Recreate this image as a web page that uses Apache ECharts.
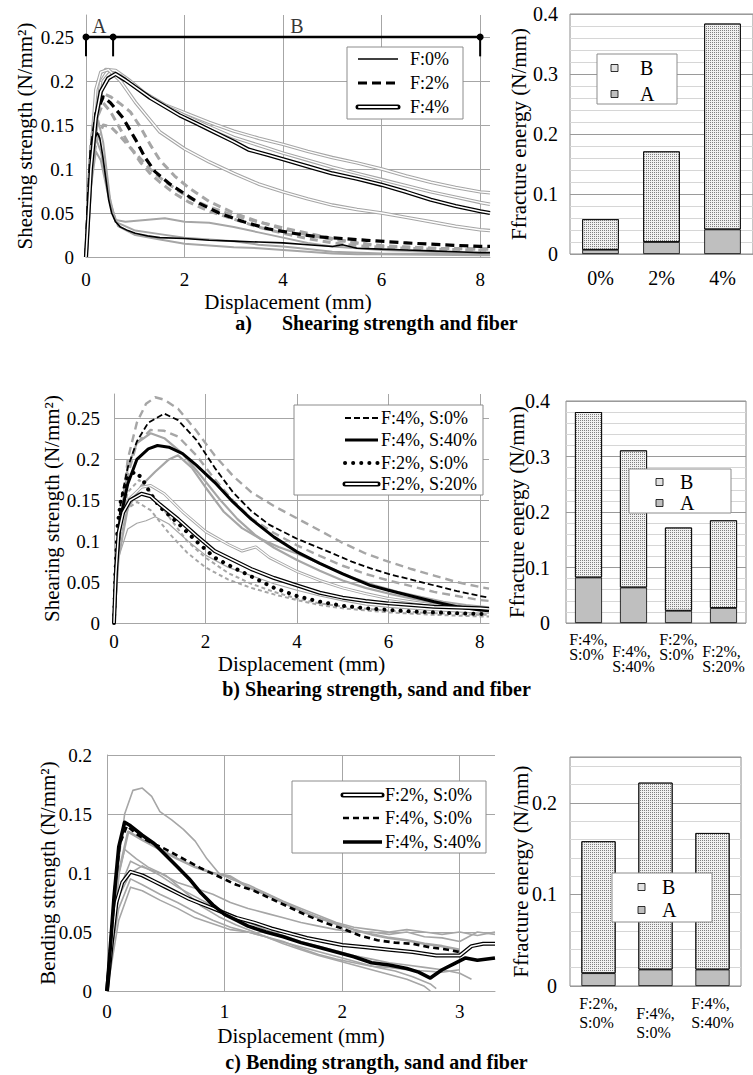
<!DOCTYPE html>
<html><head><meta charset="utf-8">
<script src="https://cdn.jsdelivr.net/npm/echarts@6/dist/echarts.min.js"></script>
<style>html,body{margin:0;padding:0;background:#fff}#c{width:753px;height:1075px}</style>
</head><body><div id="c"></div>
<script>
// ---------------- DATA ----------------
// Chart a) shearing strength vs displacement, fiber content
const aF0 = [[0,0],[0.04,0.05],[0.08,0.09],[0.13,0.12],[0.18,0.135],[0.23,0.141],[0.28,0.135],[0.34,0.115],[0.4,0.09],[0.46,0.065],[0.52,0.05],[0.6,0.04],[0.7,0.034],[0.85,0.03],[1,0.027],[1.25,0.024],[1.5,0.022],[2,0.021],[2.5,0.019],[3,0.018],[3.5,0.017],[4,0.016],[4.5,0.014],[5,0.012],[5.2,0.014],[5.5,0.01],[6,0.009],[6.5,0.008],[7,0.007],[7.5,0.006],[8,0.005],[8.2,0.005]];
const aF2 = [[0,0],[0.05,0.07],[0.1,0.12],[0.2,0.163],[0.35,0.182],[0.5,0.175],[0.75,0.158],[1,0.134],[1.2,0.113],[1.4,0.097],[1.7,0.083],[2,0.072],[2.3,0.061],[2.7,0.05],[3.2,0.04],[3.7,0.032],[4.2,0.027],[4.7,0.023],[5.2,0.021],[5.7,0.019],[6.5,0.016],[7.2,0.014],[8,0.012],[8.2,0.012]];
const aF4 = [[0,0],[0.05,0.05],[0.1,0.1],[0.2,0.158],[0.3,0.188],[0.45,0.203],[0.6,0.208],[0.8,0.201],[1,0.193],[1.3,0.181],[1.6,0.171],[1.9,0.161],[2.2,0.153],[2.6,0.142],[3,0.131],[3.3,0.122],[3.7,0.116],[4,0.111],[4.5,0.103],[5,0.095],[5.5,0.089],[6,0.082],[6.5,0.074],[7,0.065],[7.5,0.058],[8,0.052],[8.2,0.05]];
const aGrayF0_1 = [[0,0],[0.1,0.08],[0.2,0.12],[0.3,0.11],[0.45,0.07],[0.6,0.042],[0.8,0.04],[1.2,0.042],[1.6,0.044],[2,0.04],[2.5,0.039],[3,0.034],[3.5,0.028],[4,0.022],[4.5,0.016],[5,0.012],[5.5,0.01],[6,0.008],[7,0.006],[8,0.004],[8.2,0.004]];
const aGrayF0_2 = [[0,0],[0.1,0.1],[0.25,0.155],[0.35,0.13],[0.5,0.06],[0.65,0.035],[1,0.025],[1.5,0.02],[2,0.015],[2.5,0.013],[3,0.011],[3.5,0.01],[4,0.008],[4.5,0.006],[5,0.004],[5.5,0.003],[6,0.003],[8,0.002],[8.2,0.002]];
const aGrayF0_3 = [[0,0],[0.1,0.09],[0.2,0.135],[0.3,0.12],[0.45,0.075],[0.6,0.04],[1,0.03],[1.5,0.026],[2,0.022],[2.5,0.02],[3,0.018],[3.5,0.014],[4,0.012],[4.5,0.009],[5,0.006],[6,0.004],[8,0.003],[8.2,0.003]];
const aGrayF2_1 = [[0,0],[0.05,0.08],[0.1,0.13],[0.2,0.172],[0.35,0.186],[0.5,0.182],[0.7,0.174],[0.9,0.165],[1.1,0.148],[1.3,0.128],[1.5,0.11],[1.8,0.092],[2.1,0.078],[2.5,0.063],[3,0.05],[3.5,0.04],[4,0.032],[4.5,0.025],[5,0.02],[5.5,0.016],[6,0.013],[7,0.01],[8,0.009],[8.2,0.009]];
const aGrayF2_2 = [[0,0],[0.05,0.06],[0.1,0.11],[0.2,0.155],[0.35,0.175],[0.5,0.165],[0.7,0.145],[0.9,0.125],[1.1,0.108],[1.3,0.095],[1.5,0.085],[1.8,0.072],[2.1,0.062],[2.5,0.052],[3,0.043],[3.5,0.034],[4,0.027],[4.5,0.021],[5,0.016],[5.5,0.013],[6,0.011],[7,0.009],[8,0.008],[8.2,0.008]];
const aGrayF2_3 = [[0,0],[0.05,0.05],[0.1,0.09],[0.2,0.13],[0.35,0.15],[0.5,0.148],[0.7,0.137],[0.9,0.124],[1.1,0.112],[1.3,0.1],[1.5,0.09],[1.8,0.078],[2.1,0.067],[2.5,0.057],[3,0.047],[3.5,0.04],[4,0.033],[4.5,0.027],[5,0.021],[5.5,0.016],[6,0.012],[7,0.01],[8,0.009],[8.2,0.009]];
const aGrayF4_1 = [[0,0],[0.1,0.12],[0.25,0.2],[0.4,0.213],[0.6,0.212],[0.9,0.2],[1.2,0.186],[1.6,0.173],[2,0.164],[2.5,0.153],[3,0.143],[3.5,0.135],[4,0.128],[4.5,0.12],[5,0.113],[5.5,0.107],[6,0.1],[6.5,0.092],[7,0.085],[7.5,0.079],[8,0.074],[8.2,0.073]];
const aGrayF4_2 = [[0,0],[0.1,0.09],[0.2,0.15],[0.35,0.2],[0.5,0.21],[0.7,0.206],[1,0.193],[1.5,0.175],[2,0.161],[2.5,0.148],[3,0.136],[3.5,0.127],[4,0.118],[4.5,0.11],[5,0.102],[5.5,0.095],[6,0.088],[6.5,0.081],[7,0.074],[7.5,0.068],[8,0.062],[8.2,0.06]];
const aGrayF4_3 = [[0,0],[0.08,0.1],[0.2,0.19],[0.3,0.21],[0.45,0.213],[0.7,0.2],[1,0.176],[1.5,0.142],[2,0.123],[2.5,0.108],[3,0.095],[3.5,0.083],[4,0.074],[4.5,0.066],[5,0.059],[5.5,0.054],[6,0.05],[6.5,0.045],[7,0.04],[7.5,0.035],[8,0.031],[8.2,0.03]];
const abBounds = [0, 0.55, 8];      // zone limits A | B (mm)
const abLevel = 0.25;               // level of the A/B bar
const abTickEnd = 0.228;            // lower end of limit ticks
const abLabels = ['A', 'B'];
const abLabelX = [0.27, 4.28];
const abLabelY = 0.263;

// Bar a) fracture energy
const barACats = ['0%', '2%', '4%'];
const barA_A = [0.007, 0.020, 0.041];
const barA_B = [0.051, 0.151, 0.343];

// Chart b) shearing strength, sand and fiber
const bF4S0 = [[0,0],[0.05,0.08],[0.15,0.15],[0.3,0.19],[0.5,0.222],[0.75,0.245],[1.1,0.256],[1.4,0.248],[1.8,0.224],[2.2,0.19],[2.6,0.16],[3,0.137],[3.4,0.12],[4,0.103],[4.7,0.087],[5.2,0.075],[5.6,0.067],[6,0.06],[6.5,0.053],[7,0.046],[7.5,0.039],[8,0.033],[8.2,0.031]];
const bF4S40 = [[0,0],[0.05,0.07],[0.15,0.13],[0.3,0.17],[0.5,0.2],[0.75,0.213],[0.95,0.217],[1.2,0.215],[1.5,0.207],[1.8,0.193],[2.2,0.172],[2.6,0.148],[3,0.127],[3.5,0.105],[4,0.087],[4.5,0.073],[5,0.06],[5.6,0.046],[6,0.04],[6.5,0.033],[7,0.026],[7.5,0.02],[8,0.016],[8.2,0.015]];
const bF2S0 = [[0,0],[0.03,0.06],[0.08,0.12],[0.15,0.15],[0.3,0.177],[0.45,0.185],[0.6,0.178],[0.8,0.158],[1,0.142],[1.4,0.122],[1.8,0.1],[2.2,0.08],[2.6,0.068],[3,0.057],[3.5,0.043],[4,0.033],[4.5,0.026],[5,0.021],[5.5,0.018],[6,0.016],[6.5,0.014],[7,0.013],[7.5,0.012],[8,0.011],[8.2,0.011]];
const bF2S20 = [[0,0],[0.04,0.06],[0.1,0.11],[0.2,0.135],[0.35,0.15],[0.6,0.158],[0.8,0.155],[1,0.145],[1.4,0.127],[1.8,0.107],[2.2,0.088],[2.6,0.077],[3,0.066],[3.5,0.055],[4,0.046],[4.5,0.037],[5,0.031],[5.5,0.027],[6,0.024],[6.5,0.022],[7,0.02],[7.5,0.019],[8,0.018],[8.2,0.017]];
const bGrayD1 = [[0,0],[0.1,0.1],[0.3,0.2],[0.5,0.245],[0.7,0.268],[0.9,0.276],[1.1,0.273],[1.4,0.262],[1.8,0.235],[2.2,0.205],[2.6,0.18],[3,0.16],[3.5,0.143],[4,0.128],[4.5,0.113],[5,0.098],[5.5,0.085],[6,0.075],[6.5,0.066],[7,0.058],[7.5,0.05],[8,0.044],[8.2,0.042]];
const bGrayD2 = [[0,0],[0.1,0.09],[0.3,0.18],[0.5,0.22],[0.8,0.236],[1.1,0.235],[1.4,0.228],[1.8,0.205],[2.2,0.176],[2.6,0.15],[3,0.128],[3.5,0.11],[4,0.095],[4.5,0.082],[5,0.07],[5.5,0.06],[6,0.052],[6.5,0.045],[7,0.038],[7.5,0.033],[8,0.028],[8.2,0.027]];
const bGrayS1 = [[0,0],[0.1,0.1],[0.3,0.19],[0.5,0.22],[0.8,0.232],[1.1,0.226],[1.5,0.207],[1.9,0.18],[2.3,0.152],[2.7,0.127],[3.1,0.107],[3.5,0.092],[4,0.077],[4.5,0.064],[5,0.052],[5.5,0.043],[6,0.036],[6.5,0.03],[7,0.025],[7.5,0.021],[8,0.018],[8.2,0.017]];
const bGrayS2 = [[0,0],[0.1,0.08],[0.3,0.14],[0.6,0.168],[0.9,0.185],[1.2,0.2],[1.4,0.205],[1.7,0.19],[2,0.166],[2.4,0.136],[2.8,0.116],[3.2,0.103],[3.6,0.093],[4,0.085],[4.7,0.068],[5.2,0.056],[5.7,0.046],[6.2,0.038],[6.7,0.032],[7.2,0.026],[7.7,0.022],[8.2,0.019]];
const bGrayW1 = [[0,0],[0.1,0.1],[0.3,0.15],[0.6,0.166],[0.8,0.168],[1.1,0.158],[1.5,0.136],[2,0.112],[2.5,0.096],[2.8,0.088],[3.1,0.093],[3.4,0.08],[4,0.063],[4.5,0.052],[5,0.043],[5.5,0.036],[6,0.03],[6.5,0.026],[7,0.022],[7.5,0.02],[8,0.018],[8.2,0.017]];
const bGrayW2 = [[0,0],[0.1,0.08],[0.3,0.115],[0.5,0.122],[0.7,0.125],[0.9,0.13],[1.2,0.121],[1.6,0.101],[2,0.083],[2.5,0.068],[3,0.058],[3.5,0.048],[4,0.04],[4.5,0.033],[5,0.027],[5.5,0.022],[6,0.019],[7,0.015],[8,0.012],[8.2,0.012]];
const bGrayP1 = [[0,0],[0.1,0.1],[0.3,0.14],[0.5,0.148],[0.8,0.138],[1.2,0.11],[1.6,0.086],[2,0.068],[2.5,0.053],[3,0.043],[3.5,0.035],[4,0.028],[4.5,0.022],[5,0.018],[6,0.013],[7,0.01],[8,0.008],[8.2,0.008]];
const bGrayP2 = [[0,0],[0.1,0.11],[0.3,0.16],[0.55,0.175],[0.8,0.16],[1.2,0.13],[1.6,0.1],[2,0.08],[2.5,0.061],[3,0.048],[3.5,0.038],[4,0.03],[4.5,0.024],[5,0.02],[6,0.015],[7,0.012],[8,0.01],[8.2,0.01]];

// Bar b)
const barBCats = ['F:4%, S:0%', 'F:4%, S:40%', 'F:2%, S:0%', 'F:2%, S:20%'];
const barB_A = [0.082, 0.064, 0.022, 0.027];
const barB_B = [0.298, 0.247, 0.150, 0.158];

// Chart c) bending strength
const cF2S0 = [[0,0],[0.04,0.04],[0.08,0.075],[0.13,0.092],[0.2,0.101],[0.3,0.098],[0.4,0.093],[0.5,0.088],[0.6,0.083],[0.7,0.078],[0.8,0.074],[0.9,0.07],[1,0.066],[1.1,0.062],[1.25,0.058],[1.4,0.053],[1.55,0.049],[1.7,0.045],[1.85,0.042],[2,0.039],[2.2,0.037],[2.4,0.035],[2.6,0.033],[2.8,0.03],[3,0.03],[3.1,0.038],[3.2,0.04],[3.3,0.04]];
const cF4S0 = [[0,0],[0.03,0.04],[0.07,0.09],[0.11,0.125],[0.17,0.14],[0.25,0.133],[0.35,0.127],[0.5,0.12],[0.65,0.112],[0.8,0.104],[0.95,0.097],[1.1,0.09],[1.25,0.085],[1.4,0.078],[1.55,0.071],[1.7,0.064],[1.85,0.058],[2,0.053],[2.15,0.047],[2.3,0.043],[2.45,0.041],[2.6,0.04],[2.75,0.037],[2.9,0.035],[3,0.033]];
const cF4S40 = [[0,0],[0.03,0.04],[0.06,0.08],[0.1,0.122],[0.15,0.143],[0.2,0.14],[0.3,0.132],[0.4,0.125],[0.5,0.115],[0.6,0.105],[0.7,0.095],[0.8,0.083],[0.9,0.073],[1,0.065],[1.1,0.06],[1.2,0.055],[1.35,0.05],[1.5,0.046],[1.65,0.041],[1.8,0.037],[1.95,0.033],[2.1,0.029],[2.25,0.024],[2.4,0.022],[2.55,0.019],[2.65,0.016],[2.75,0.011],[2.85,0.018],[2.95,0.023],[3.05,0.028],[3.15,0.026],[3.3,0.028]];
const cGray1 = [[0,0],[0.05,0.06],[0.1,0.11],[0.15,0.15],[0.22,0.17],[0.3,0.172],[0.38,0.165],[0.45,0.152],[0.55,0.145],[0.65,0.137],[0.75,0.127],[0.85,0.112],[0.95,0.1],[1.05,0.095],[1.2,0.09],[1.35,0.083],[1.5,0.076],[1.65,0.07],[1.8,0.064],[1.95,0.058],[2.1,0.054],[2.25,0.052],[2.4,0.05],[2.55,0.052],[2.7,0.05],[2.85,0.048],[3,0.05],[3.15,0.047],[3.3,0.05]];
const cGray2 = [[0,0],[0.05,0.05],[0.1,0.1],[0.18,0.135],[0.3,0.128],[0.45,0.12],[0.6,0.112],[0.75,0.105],[0.9,0.1],[1.05,0.097],[1.2,0.088],[1.35,0.082],[1.5,0.075],[1.65,0.068],[1.8,0.062],[1.95,0.057],[2.1,0.052],[2.25,0.048],[2.4,0.045],[2.55,0.043],[2.7,0.04],[2.85,0.038],[3,0.035]];
const cGray3 = [[0,0],[0.05,0.06],[0.1,0.1],[0.15,0.12],[0.25,0.112],[0.35,0.105],[0.5,0.098],[0.65,0.085],[0.8,0.072],[0.95,0.063],[1.1,0.056],[1.25,0.05],[1.4,0.044],[1.55,0.04],[1.7,0.036],[1.85,0.032],[2,0.028],[2.15,0.024],[2.3,0.02],[2.45,0.017],[2.6,0.012],[2.75,0.006],[2.8,0.002]];
const cGray4 = [[0,0],[0.05,0.04],[0.1,0.07],[0.2,0.095],[0.3,0.09],[0.45,0.082],[0.6,0.075],[0.75,0.067],[0.9,0.06],[1.05,0.054],[1.2,0.05],[1.35,0.046],[1.5,0.042],[1.65,0.036],[1.8,0.031],[1.95,0.027],[2.1,0.024],[2.25,0.021],[2.4,0.02],[2.55,0.018],[2.7,0.017],[2.85,0.016],[3,0.018]];
const cGray5 = [[0,0],[0.05,0.05],[0.1,0.08],[0.2,0.1],[0.3,0.106],[0.45,0.098],[0.6,0.088],[0.75,0.08],[0.9,0.072],[1.05,0.065],[1.2,0.058],[1.35,0.052],[1.5,0.047],[1.65,0.042],[1.8,0.038],[1.95,0.034],[2.1,0.03],[2.25,0.027],[2.4,0.024],[2.55,0.022],[2.7,0.02],[2.85,0.018],[3,0.015],[3.1,0.01]];
const cGray6 = [[0,0],[0.05,0.03],[0.1,0.06],[0.2,0.088],[0.3,0.085],[0.45,0.077],[0.6,0.07],[0.75,0.062],[0.9,0.057],[1.05,0.052],[1.2,0.05],[1.35,0.046],[1.5,0.04],[1.65,0.035],[1.8,0.03],[1.95,0.026],[2.1,0.022],[2.25,0.018],[2.4,0.014],[2.55,0.01],[2.7,0.004],[2.75,0]];
const cGray7 = [[0,0],[0.05,0.05],[0.1,0.085],[0.2,0.11],[0.3,0.105],[0.45,0.1],[0.6,0.092],[0.75,0.087],[0.9,0.082],[1.05,0.075],[1.2,0.07],[1.35,0.066],[1.5,0.062],[1.65,0.058],[1.8,0.055],[1.95,0.052],[2.1,0.05],[2.25,0.05],[2.4,0.048],[2.55,0.05],[2.7,0.046],[2.85,0.045],[3,0.042],[3.15,0.05],[3.3,0.048]];

// Bar c)
const barCCats = ['F:2%, S:0%', 'F:4%, S:0%', 'F:4%, S:40%'];
const barC_A = [0.014, 0.018, 0.018];
const barC_B = [0.144, 0.204, 0.149];

const chartTitles = ['a)\u00a0\u00a0\u00a0\u00a0\u00a0\u00a0Shearing strength and fiber', 'b) Shearing strength, sand and fiber', 'c) Bending strangth, sand and fiber'];

// ---------------- STYLE / BUILD ----------------
const FONT = 'Liberation Serif';
const GRAY = '#a6a6a6';
const GRIDC = '#a6a6a6';
const TXT = '#000';

function numLabel(fs) {
  return { fontSize: fs, color: TXT, fontFamily: FONT,
    formatter: v => '{v|' + v + '}', rich: { v: { fontSize: fs, color: TXT, fontFamily: FONT } } };
}
function lineS(name, gi, data, color, width, type, cap) {
  return { name, type: 'line', xAxisIndex: gi, yAxisIndex: gi, data, symbol: 'none', showSymbol: false,
    silent: true, animation: false, clip: true,
    lineStyle: { color, width, type: type || 'solid', cap: cap || 'butt', join: 'round' } };
}
function doubleS(name, gi, data, outer, outerW, innerW) {
  return [lineS(name, gi, data, outer, outerW), lineS(name + '-in', gi, data, '#fff', innerW)];
}
function xVal(gi, max, interval, nameGap, margin) {
  return { gridIndex: gi, type: 'value', min: 0, max, interval,
    name: 'Displacement (mm)', nameLocation: 'middle', nameGap, nameMoveOverlap: false,
    nameTextStyle: { fontSize: 21, color: TXT, fontFamily: FONT },
    axisLine: { show: true, lineStyle: { color: GRIDC } }, axisTick: { show: false },
    axisLabel: Object.assign(numLabel(19), { margin, showMaxLabel: false }),
    splitLine: { show: true, showMaxLine: false, lineStyle: { color: GRIDC } } };
}
function yVal(gi, max, interval, name, nameGap, margin, hideMax, fs) {
  return { gridIndex: gi, type: 'value', min: 0, max, interval,
    name, nameLocation: 'middle', nameGap, nameRotate: 90, nameMoveOverlap: false,
    nameTextStyle: { fontSize: 21, color: TXT, fontFamily: FONT },
    axisLine: { show: true, lineStyle: { color: GRIDC } }, axisTick: { show: false },
    axisLabel: Object.assign(numLabel(fs || 19), { margin, showMaxLabel: !hideMax }),
    splitLine: { show: true, showMaxLine: !hideMax, lineStyle: { color: GRIDC } } };
}
function yBar(gi, max, nameGap, margin) {
  const a = yVal(gi, max, 0.1, 'Ffracture energy (N/mm)', nameGap, margin, false, 20);
  a.axisLabel.showMaxLabel = (max === 0.4);
  a.splitLine = { show: true, lineStyle: { color: '#9a9a9a' } };
  a.minorTick = { show: false, splitNumber: 5 };
  a.minorSplitLine = { show: true, lineStyle: { color: '#d6d6d6' } };
  a.axisLine = { show: false };
  return a;
}
function xCat(gi, cats, margin, stagger) {
  const ax = { gridIndex: gi, type: 'category', data: cats,
    axisLine: { show: false }, axisTick: { show: false },
    axisLabel: Object.assign(numLabel(20), { margin, interval: 0 }) };
  if (stagger) {
    ax.axisLabel.fontSize = 16;
    ax.axisLabel.formatter = (v, i) => {
      const p = v.split(' ');
      const body = '{t|' + p[0] + '}\n{t|' + p[1] + '}';
      return (i % 2 ? '{sp|\u00a0}\n' : '') + body;
    };
    ax.axisLabel.rich = {
      t: { fontSize: 16, lineHeight: stagger.lh, fontFamily: FONT, color: TXT, align: 'left' },
      sp: { fontSize: 4, lineHeight: stagger.off }
    };
  }
  return ax;
}
const stipple = { symbol: 'rect', symbolSize: 1, color: '#7f7f7f', dashArrayX: [1, 1], dashArrayY: [1, 1], rotation: 0 };
function barPair(gi, stack, aVals, bVals) {
  return [
    { name: 'A', type: 'bar', stack, xAxisIndex: gi, yAxisIndex: gi, data: aVals, barWidth: '60%', silent: true,
      itemStyle: { color: '#bfbfbf', borderColor: '#000', borderWidth: 0.8 } },
    { name: 'B', type: 'bar', stack, xAxisIndex: gi, yAxisIndex: gi, data: bVals, barWidth: '60%', silent: true,
      itemStyle: { color: '#f0f0f0', borderColor: '#000', borderWidth: 0.8, decal: stipple } }
  ];
}

// ---------------- SERIES ----------------
const series = [];
// chart a
[aGrayF0_1, aGrayF0_2, aGrayF0_3].forEach((d, i) => series.push(lineS('aG0' + i, 0, d, GRAY, 2)));
[aGrayF2_1, aGrayF2_2, aGrayF2_3].forEach((d, i) => series.push(lineS('aG2' + i, 0, d, GRAY, 3, [8, 5])));
[aGrayF4_1, aGrayF4_2, aGrayF4_3].forEach((d, i) => series.push(...doubleS('aG4' + i, 0, d, GRAY, 3.5, 1.4)));
series.push(lineS('F:0%', 0, aF0, '#000', 1.6));
series.push(lineS('F:2%', 0, aF2, '#000', 3.2, [9, 5]));
series.push(...doubleS('F:4%', 0, aF4, '#000', 4.2, 1.6));
series.push({ name: 'AB', type: 'line', xAxisIndex: 0, yAxisIndex: 0, silent: true,
  data: abBounds.map(x => [x, abLevel]), symbol: 'circle', symbolSize: 7, showSymbol: true,
  itemStyle: { color: '#000' }, lineStyle: { color: '#000', width: 2.6 }, clip: false });
abBounds.forEach((x, i) => series.push(Object.assign(lineS('ABt' + i, 0, [[x, abLevel], [x, abTickEnd]], '#000', 2), { clip: false })));
series.push({ name: 'ABlab', type: 'scatter', xAxisIndex: 0, yAxisIndex: 0, silent: true, symbolSize: 0,
  data: abLabels.map((n, i) => ({ name: n, value: [abLabelX[i], abLabelY] })),
  label: { show: true, position: 'inside', formatter: p => p.name, fontSize: 20, color: TXT, fontFamily: FONT } });
// bar a
series.push(...barPair(1, 'sa', barA_A, barA_B));
// chart b
[bGrayD1, bGrayD2].forEach((d, i) => series.push(lineS('bGD' + i, 2, d, GRAY, 2.4, [8, 5])));
[bGrayP1, bGrayP2].forEach((d, i) => series.push(lineS('bGP' + i, 2, d, GRAY, 2, [4, 3])));
[bGrayS1, bGrayS2].forEach((d, i) => series.push(lineS('bGS' + i, 2, d, GRAY, 2.2)));
series.push(...doubleS('bGW1', 2, bGrayW1, GRAY, 3, 1.2));
series.push(lineS('bGW2', 2, bGrayW2, GRAY, 1.2));
series.push(lineS('F:4%, S:0%', 2, bF4S0, '#000', 1.8, [6, 3]));
series.push(lineS('F:4%, S:40%', 2, bF4S40, '#000', 3));
series.push(lineS('F:2%, S:0%', 2, bF2S0, '#000', 4, [0.1, 8], 'round'));
series.push(...doubleS('F:2%, S:20%', 2, bF2S20, '#000', 4, 1.5));
// bar b
series.push(...barPair(3, 'sb', barB_A, barB_B));
// chart c
[cGray1, cGray3, cGray4, cGray5, cGray6, cGray7].forEach((d, i) => series.push(lineS('cG' + i, 4, d, GRAY, 1.6)));
series.push(lineS('cG2', 4, cGray2, GRAY, 2.6));
series.push(...doubleS('F:2%, S:0% c', 4, cF2S0, '#000', 4, 1.5));
series.push(lineS('F:4%, S:0% c', 4, cF4S0, '#000', 2.6, [6, 4]));
series.push(lineS('F:4%, S:40% c', 4, cF4S40, '#000', 3.6));
// bar c
series.push(...barPair(5, 'sc', barC_A, barC_B));

// ---------------- LEGENDS (graphic) ----------------
const G = [];
function txt(x, y, s, fs) {
  return { type: 'text', x, y, z: 100, silent: true, style: { text: s, fill: TXT, fontSize: fs, fontFamily: FONT, align: 'left', verticalAlign: 'middle' } };
}
function box(x, y, w, h) {
  return { type: 'rect', z: 100, silent: true, shape: { x, y, width: w, height: h }, style: { fill: '#fff', stroke: '#8c8c8c', lineWidth: 1 } };
}
function seg(x1, x2, y, stroke, w, dash, cap) {
  return { type: 'line', z: 101, silent: true, shape: { x1, y1: y, x2, y2: y }, style: { stroke, lineWidth: w, lineDash: dash || null, lineCap: cap || 'butt' } };
}
function sample(kind, x1, x2, y) {
  if (kind.t === 'double') return [seg(x1, x2, y, '#000', 5, null, 'round'), seg(x1 + 1, x2 - 1, y, '#fff', 2, null, 'round')];
  return [seg(x1, x2, y, '#000', kind.w, kind.dash, kind.cap)];
}
function lineLegend(bx, by, bw, bh, rows, sx1, sx2, tx, items) {
  G.push(box(bx, by, bw, bh));
  items.forEach((it, i) => { G.push(...sample(it, sx1, sx2, rows[i])); G.push(txt(tx, rows[i], it.label, 18)); });
}
function barLegend(bx, by, bw, bh, rows, ix, tx) {
  G.push(box(bx, by, bw, bh));
  G.push({ type: 'rect', z: 101, silent: true, shape: { x: ix, y: rows[0] - 3.5, width: 7, height: 7 }, style: { fill: '#e2e2e2', stroke: '#000', lineWidth: 0.8 } });
  G.push({ type: 'rect', z: 101, silent: true, shape: { x: ix, y: rows[1] - 3.5, width: 7, height: 7 }, style: { fill: '#bfbfbf', stroke: '#000', lineWidth: 0.8 } });
  G.push(txt(tx, rows[0], 'B', 20));
  G.push(txt(tx, rows[1], 'A', 20));
}
lineLegend(347, 47, 116, 72, [59, 83, 107], 358, 398, 410, [
  { label: 'F:0%', t: 's', w: 1.6 },
  { label: 'F:2%', t: 's', w: 3.2, dash: [9, 5] },
  { label: 'F:4%', t: 'double' }]);
lineLegend(294, 405, 189, 90, [418, 440, 463, 484], 345, 378, 381, [
  { label: 'F:4%, S:0%', t: 's', w: 1.8, dash: [6, 3] },
  { label: 'F:4%, S:40%', t: 's', w: 3 },
  { label: 'F:2%, S:0%', t: 's', w: 4, dash: [0.1, 8], cap: 'round' },
  { label: 'F:2%, S:20%', t: 'double' }]);
lineLegend(292, 781, 194, 72, [795, 818, 842], 343, 382, 385, [
  { label: 'F:2%, S:0%', t: 'double' },
  { label: 'F:4%, S:0%', t: 's', w: 2.6, dash: [6, 4] },
  { label: 'F:4%, S:40%', t: 's', w: 3.6 }]);
barLegend(597, 54, 80, 50, [68, 94], 611, 640);
barLegend(629, 469, 102, 44, [482, 503], 656, 680);
barLegend(612, 873, 100, 49, [887, 910], 638, 662);

// ---------------- OPTION ----------------
const option = {
  animation: false,
  textStyle: { fontFamily: FONT },
  title: chartTitles.map((t, i) => ({ text: t, left: 'center', top: [312, 678, 1051][i], padding: 0,
    textStyle: { fontSize: 20, lineHeight: 22, fontWeight: 'bold', color: TXT, fontFamily: FONT } })),
  grid: [
    { left: 86, top: 15, width: 404, height: 242 },
    { left: 570, top: 14, width: 187, height: 240, show: true, borderColor: '#8c8c8c', borderWidth: 1, backgroundColor: 'transparent' },
    { left: 114, top: 394, width: 375, height: 229 },
    { left: 566, top: 401, width: 180, height: 222, show: true, borderColor: '#8c8c8c', borderWidth: 1, backgroundColor: 'transparent' },
    { left: 107, top: 755, width: 388, height: 236 },
    { left: 570, top: 757, width: 171, height: 229, show: true, borderColor: '#8c8c8c', borderWidth: 1, backgroundColor: 'transparent' }
  ],
  xAxis: [
    xVal(0, 8.2, 2, 34, 13),
    xCat(1, barACats, 14, null),
    xVal(2, 8.2, 2, 30, 9),
    xCat(3, barBCats, 9, { lh: 15, off: 12 }),
    xVal(4, 3.3, 1, 34, 11),
    xCat(5, barCCats, 8, { lh: 19, off: 10 })
  ],
  yAxis: [
    yVal(0, 0.275, 0.05, 'Shearing strength (N/mm²)', 51, 12, true),
    yBar(1, 0.4, 41, 12),
    yVal(2, 0.28, 0.05, 'Shearing strength (N/mm²)', 52, 14, true),
    yBar(3, 0.4, 39, 16),
    yVal(4, 0.2, 0.05, 'Bending strength (N/mm²)', 49, 15, false),
    yBar(5, 0.25, 39, 13)
  ],
  series,
  graphic: { elements: G }
};
const chart = echarts.init(document.getElementById('c'), null, { renderer: 'svg' });
chart.setOption(option);
</script></body></html>
